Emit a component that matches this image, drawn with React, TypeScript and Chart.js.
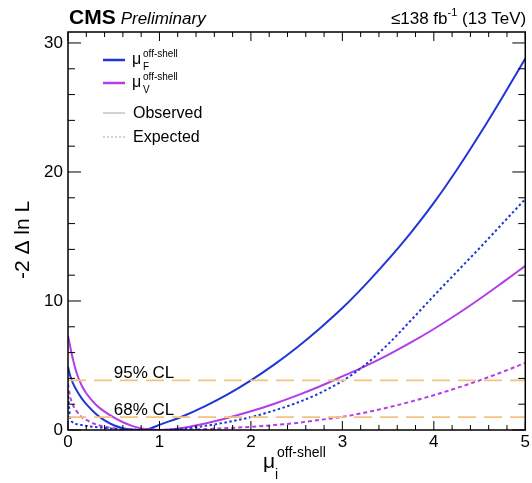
import React, { useEffect, useRef } from "react";
import { Chart, registerables } from "chart.js";

Chart.register(...registerables);

// ---- data ----
const muValues = [0, 0.02, 0.05, 0.1, 0.15, 0.2, 0.3, 0.4, 0.5, 0.6, 0.7, 0.8, 0.9, 1.0, 1.25, 1.5, 1.75, 2.0, 2.25, 2.5, 2.75, 3.0, 3.25, 3.5, 3.75, 4.0, 4.25, 4.5, 4.75, 5.0];
const muFObserved = [4.9, 4.3, 3.7, 3.0, 2.45, 2.0, 1.28, 0.74, 0.37, 0.14, 0.03, 0.0, 0.12, 0.4, 1.05, 1.85, 2.78, 3.85, 5.05, 6.38, 7.85, 9.45, 11.25, 13.2, 15.3, 17.6, 20.15, 22.9, 25.8, 28.8];
const muFExpected = [3.0, 1.1, 0.6, 0.45, 0.38, 0.32, 0.23, 0.15, 0.09, 0.045, 0.018, 0.004, 0.0, 0.0, 0.1, 0.32, 0.62, 1.0, 1.5, 2.1, 2.85, 3.8, 5.05, 6.65, 8.5, 10.4, 12.25, 14.1, 16.0, 17.9];
const muVObserved = [7.3, 6.6, 5.6, 4.3, 3.45, 2.85, 2.0, 1.42, 0.98, 0.6, 0.32, 0.12, 0.03, 0.0, 0.15, 0.5, 0.95, 1.45, 2.02, 2.66, 3.37, 4.15, 4.95, 5.83, 6.79, 7.83, 8.95, 10.15, 11.42, 12.72];
const muVExpected = [3.6, 2.7, 2.0, 1.4, 1.0, 0.78, 0.45, 0.25, 0.13, 0.06, 0.02, 0.005, 0.0, 0.0, 0.02, 0.07, 0.15, 0.25, 0.38, 0.55, 0.78, 1.02, 1.35, 1.75, 2.2, 2.7, 3.25, 3.85, 4.5, 5.2];

const clLevels = [1.0, 3.84];
const clLabels = ["68% CL", "95% CL"];
const xTickValues = [0, 1, 2, 3, 4, 5];
const yTickValues = [0, 10, 20, 30];

const X_MIN = 0;
const X_MAX = 5;
const Y_MIN = 0;
const Y_MAX = 30.85;

const BLUE = "#1f36d9";
const MAGENTA = "#b33de6";
const ORANGE = "#f3c27f";
const FONT = '"Liberation Sans", Arial, Helvetica, sans-serif';

const pts = (ys: number[]) => muValues.map((x, i) => ({ x, y: ys[i] }));

const framePlugin = {
  id: "rootFrame",
  afterDraw(chart: any) {
    const { ctx, chartArea: a, scales } = chart;
    const xs = scales.x;
    const ys = scales.y;
    ctx.save();
    // frame
    ctx.strokeStyle = "#000";
    ctx.lineWidth = 1.5;
    ctx.strokeRect(a.left, a.top, a.right - a.left, a.bottom - a.top);
    // x ticks (bottom and top)
    ctx.lineWidth = 1;
    for (let i = 0; i <= 25; i++) {
      const v = X_MIN + i * 0.2;
      const px = xs.getPixelForValue(v);
      const len = i % 5 === 0 ? 9 : 5;
      ctx.beginPath();
      ctx.moveTo(px, a.bottom);
      ctx.lineTo(px, a.bottom - len);
      ctx.moveTo(px, a.top);
      ctx.lineTo(px, a.top + len);
      ctx.stroke();
    }
    // y ticks (left and right)
    for (let v = 0; v <= 30; v += 2) {
      const py = ys.getPixelForValue(v);
      const len = v % 10 === 0 ? 13 : 7;
      ctx.beginPath();
      ctx.moveTo(a.left, py);
      ctx.lineTo(a.left + len, py);
      ctx.moveTo(a.right, py);
      ctx.lineTo(a.right - len, py);
      ctx.stroke();
    }

    ctx.fillStyle = "#000";
    ctx.textBaseline = "alphabetic";
    // CL labels
    ctx.font = `17px ${FONT}`;
    ctx.textAlign = "left";
    clLevels.forEach((lvl, i) => {
      ctx.fillText(clLabels[i], xs.getPixelForValue(0.5), ys.getPixelForValue(lvl) - 2);
    });

    // header
    ctx.font = `bold 21px ${FONT}`;
    ctx.fillText("CMS", a.left + 1, 24);
    const cmsW = ctx.measureText("CMS").width;
    ctx.font = `italic 17px ${FONT}`;
    ctx.fillText("Preliminary", a.left + 1 + cmsW + 5, 24);
    // right header: ≤138 fb^-1 (13 TeV)
    const p1 = "\u2264138 fb";
    const p3 = " (13 TeV)";
    ctx.font = `11px ${FONT}`;
    const w2 = ctx.measureText("-1").width;
    ctx.font = `17px ${FONT}`;
    const w1 = ctx.measureText(p1).width;
    const w3 = ctx.measureText(p3).width;
    const sx = a.right + 1 - (w1 + w2 + w3);
    ctx.fillText(p1, sx, 24);
    ctx.font = `11px ${FONT}`;
    ctx.fillText("-1", sx + w1, 16);
    ctx.font = `17px ${FONT}`;
    ctx.fillText(p3, sx + w1 + w2, 24);

    // legend
    const lx0 = 103;
    const lx1 = 125;
    const drawMu = (y: number, sub: string, color: string) => {
      ctx.strokeStyle = color;
      ctx.lineWidth = 2.5;
      ctx.setLineDash([]);
      ctx.beginPath();
      ctx.moveTo(lx0, y - 4);
      ctx.lineTo(lx1, y - 4);
      ctx.stroke();
      ctx.fillStyle = "#000";
      ctx.font = `16px ${FONT}`;
      ctx.fillText("\u03bc", 132, y);
      ctx.font = `10px ${FONT}`;
      ctx.fillText("off-shell", 143, y - 7);
      ctx.fillText(sub, 143, y + 6);
    };
    drawMu(64, "F", BLUE);
    drawMu(87, "V", MAGENTA);
    ctx.strokeStyle = "#c4c4c4";
    ctx.lineWidth = 1.5;
    ctx.beginPath();
    ctx.moveTo(lx0, 113);
    ctx.lineTo(lx1, 113);
    ctx.stroke();
    ctx.setLineDash([2, 2]);
    ctx.beginPath();
    ctx.moveTo(lx0, 137);
    ctx.lineTo(lx1, 137);
    ctx.stroke();
    ctx.setLineDash([]);
    ctx.fillStyle = "#000";
    ctx.font = `16px ${FONT}`;
    ctx.textBaseline = "middle";
    ctx.fillText("Observed", 133, 114);
    ctx.fillText("Expected", 133, 138);
    ctx.textBaseline = "alphabetic";

    // x title
    ctx.font = `21px ${FONT}`;
    ctx.fillText("\u03bc", 263, 468);
    ctx.font = `14px ${FONT}`;
    ctx.fillText("off-shell", 277, 457);
    ctx.fillText("i", 275, 479);

    // y title
    ctx.save();
    ctx.translate(29, 240);
    ctx.rotate(-Math.PI / 2);
    ctx.font = `21px ${FONT}`;
    ctx.textAlign = "center";
    ctx.fillText("-2 \u0394 ln L", 0, 0);
    ctx.restore();

    ctx.restore();
  },
};

export default function App() {
  const ref = useRef<HTMLCanvasElement | null>(null);
  useEffect(() => {
    document.body.style.margin = "0";
    const canvas = ref.current;
    if (!canvas) return;
    const line = (data: any, color: string, dash: number[], width = 2) => ({
      data,
      borderColor: color,
      backgroundColor: color,
      borderWidth: width,
      borderDash: dash,
      pointRadius: 0,
      fill: false,
      cubicInterpolationMode: "monotone",
    });
    const chart = new Chart(canvas, {
      type: "line",
      data: {
        datasets: [
          line([{ x: X_MIN, y: clLevels[1] }, { x: X_MAX, y: clLevels[1] }], ORANGE, [18, 8], 1.8),
          line([{ x: X_MIN, y: clLevels[0] }, { x: X_MAX, y: clLevels[0] }], ORANGE, [18, 8], 1.8),
          line(pts(muFExpected), BLUE, [2.5, 2.5]),
          line(pts(muVExpected), MAGENTA, [4, 3]),
          line(pts(muVObserved), MAGENTA, []),
          line(pts(muFObserved), BLUE, []),
        ] as any,
      },
      options: {
        animation: false,
        responsive: false,
        layout: { padding: { top: 32, right: 6, left: 0, bottom: 0 } },
        plugins: { legend: { display: false }, tooltip: { enabled: false } },
        scales: {
          x: {
            type: "linear",
            min: X_MIN,
            max: X_MAX,
            afterBuildTicks: (s: any) => {
              s.ticks = xTickValues.map((v) => ({ value: v }));
            },
            afterFit: (s: any) => {
              s.height = 53;
            },
            grid: { display: false, drawTicks: false },
            border: { display: false },
            ticks: {
              color: "#000",
              font: { family: FONT, size: 17 },
              padding: 2,
              maxRotation: 0,
              autoSkip: false,
            },
          },
          y: {
            type: "linear",
            min: Y_MIN,
            max: Y_MAX,
            afterBuildTicks: (s: any) => {
              s.ticks = yTickValues.map((v) => ({ value: v }));
            },
            afterFit: (s: any) => {
              s.width = 68;
            },
            grid: { display: false, drawTicks: false },
            border: { display: false },
            ticks: {
              color: "#000",
              font: { family: FONT, size: 17 },
              padding: 5,
              autoSkip: false,
            },
          },
        },
      } as any,
      plugins: [framePlugin],
    });
    return () => chart.destroy();
  }, []);
  return <canvas ref={ref} width={532} height={483} style={{ display: "block" }} />;
}
